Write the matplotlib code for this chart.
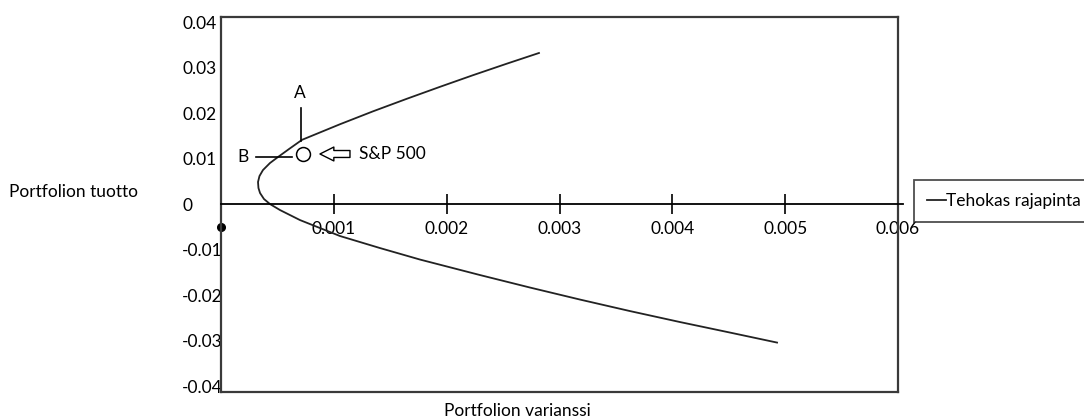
import matplotlib
matplotlib.use("Agg")
import matplotlib.pyplot as plt

plt.rcParams['font.family'] = ['Lato', 'DejaVu Sans']
plt.rcParams['axes.unicode_minus'] = False

# ---- data ----
frontier_variance = [0.002818, 0.002535, 0.002233, 0.001941, 0.001648, 0.001347,
                     0.001055, 0.000718, 0.000603, 0.000505, 0.000434, 0.000372,
                     0.000341, 0.000328, 0.000332, 0.000346, 0.000381, 0.000434,
                     0.000523, 0.000700, 0.000877, 0.001055, 0.001409, 0.001764,
                     0.002295, 0.002739, 0.003182, 0.003625, 0.004068, 0.004511,
                     0.004928]
frontier_return = [0.03319, 0.03086, 0.02831, 0.02576, 0.02314, 0.02037,
                   0.01754, 0.01411, 0.01209, 0.01033, 0.00901, 0.00747,
                   0.00615, 0.00484, 0.00352, 0.00242, 0.00110, 0.0,
                   -0.00132, -0.00352, -0.00527, -0.00703, -0.00967, -0.01220,
                   -0.01560, -0.01835, -0.02099, -0.02352, -0.02593, -0.02824,
                   -0.03044]
sp500_point = (0.00073, 0.0110)
origin_point = (0.0, -0.00505)

x_ticks = [0.001, 0.002, 0.003, 0.004, 0.005, 0.006]
x_tick_labels = ['0.001', '0.002', '0.003', '0.004', '0.005', '0.006']
y_ticks = [0.04, 0.03, 0.02, 0.01, 0.0, -0.01, -0.02, -0.03, -0.04]
y_tick_labels = ['0.04', '0.03', '0.02', '0.01', '0', '-0.01', '-0.02', '-0.03', '-0.04']

series_label = 'Tehokas rajapinta'
y_title = 'Portfolion tuotto'
x_title = 'Portfolion varianssi'

FS = 12.5
W, H = 1084, 419
fig = plt.figure(figsize=(W / 100, H / 100), dpi=100)
ax = fig.add_axes([221 / W, 1 - 392 / H, 677 / W, 375 / H])
ax.set_xlim(0, 0.006)
ax.set_ylim(-0.0413, 0.0411)

frame_col = '#3a3a3a'
for s in ['left', 'right', 'top']:
    ax.spines[s].set_color(frame_col)
    ax.spines[s].set_linewidth(1.6)
ax.spines['bottom'].set_position(('data', 0))
ax.spines['bottom'].set_color('black')
ax.spines['bottom'].set_linewidth(1.3)
# frame bottom edge
ax.plot([0, 1], [0, 0], transform=ax.transAxes, color=frame_col, lw=1.6, clip_on=False)
# small extension of the zero axis beyond the frame
ax.axhline(0, xmin=1, xmax=1.008, color='black', lw=1.3, clip_on=False)

ax.set_xticks(x_ticks)
ax.set_xticklabels(x_tick_labels)
ax.tick_params(axis='x', direction='inout', length=15, width=1.2, pad=5,
               labelsize=FS, colors='black')
ax.set_yticks(y_ticks)
ax.set_yticklabels(y_tick_labels)
ax.tick_params(axis='y', length=0, pad=28, labelsize=FS)
for lab in ax.get_yticklabels():
    lab.set_horizontalalignment('left')

# efficient frontier
ax.plot(frontier_variance, frontier_return, color='#222222', lw=1.3,
        solid_joinstyle='round', label=series_label)

# S&P 500 point
ax.plot([sp500_point[0]], [sp500_point[1]], marker='o', ms=10, mfc='white',
        mec='black', mew=1.1, ls='none')
# origin dot
ax.plot([origin_point[0]], [origin_point[1]], marker='o', ms=5.5, color='black',
        ls='none', clip_on=False)

# A marker line and label
ax.plot([0.000709, 0.000709], [0.01385, 0.0211], color='black', lw=1.2)
ax.text(0.000701, 0.0244, 'A', ha='center', va='center', fontsize=FS)
# B marker line and label
ax.plot([0.00031, 0.00063], [0.01033, 0.01033], color='black', lw=1.2)
ax.text(0.000195, 0.01033, 'B', ha='center', va='center', fontsize=FS)
# hollow arrow pointing to S&P 500
ax.annotate('', xy=(0.000877, 0.0110), xytext=(0.001143, 0.0110),
            arrowprops=dict(arrowstyle='simple,head_length=1.0,head_width=1.0,tail_width=0.5',
                            mutation_scale=10, fc='white', ec='black', lw=1.0,
                            shrinkA=0, shrinkB=0))
ax.text(0.001223, 0.0111, 'S&P 500', ha='left', va='center', fontsize=FS)

# axis titles
fig.text(9 / W, 1 - 192 / H, y_title, ha='left', va='center', fontsize=FS)
fig.text(517 / W, 1 - 411 / H, x_title, ha='center', va='center', fontsize=FS)

# legend
leg = ax.legend(loc='upper left', bbox_to_anchor=(914 / W, 1 - 180 / H),
                bbox_transform=fig.transFigure, frameon=True, fancybox=False,
                fontsize=FS, handlelength=1.1, handletextpad=0.0, borderpad=0.75,
                borderaxespad=0)
leg.get_frame().set_edgecolor('#222222')
leg.get_frame().set_linewidth(1.3)

fig.savefig('out.png', dpi=100)
